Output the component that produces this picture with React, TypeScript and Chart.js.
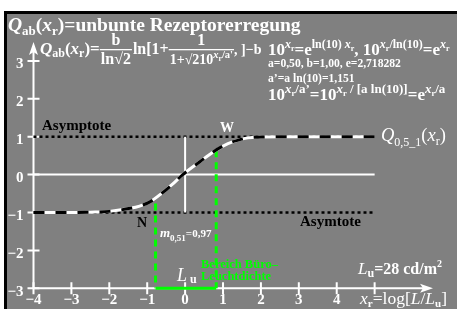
import { useEffect, useRef } from "react";
import { Chart, registerables } from "chart.js";
Chart.register(...registerables);

const W = 457;
const H = 309;

// curve
const curveX = [-4, -3, -2.5, -2, -1.45, -1.2, -0.93, -0.6, -0.34, -0.06, 0.39, 0.74, 1.13, 1.4, 1.66, 2, 2.5, 3, 4, 5];
const curveY = [-1, -1, -0.99, -0.97, -0.89, -0.83, -0.72, -0.48, -0.26, 0, 0.34, 0.6, 0.82, 0.91, 0.97, 0.99, 1, 1, 1, 1];

const asymX = [-4, 5];
const asymTop = [1, 1];
const asymBottom = [-1, -1];
const zeroLineX = [-4, 5];
const zeroLineY = [0, 0];
const vertX = [0, 0];
const vertY = [-1, 1];
const greenLeftX = [-0.78, -0.78];
const greenLeftY = [-0.76, -3];
const greenRightX = [0.82, 0.82];
const greenRightY = [0.64, -3];
const greenBaseX = [-0.78, 0.82];
const greenBaseY = [-3, -3];

const xTickValues = [-4, -3, -2, -1, 0, 1, 2, 3, 4, 5];
const xTickLabels = ["−4", "−3", "−2", "−1", "0", "1", "2", "3", "4", ""];
const yTickValues = [-3, -2, -1, 0, 1, 2, 3];
const yTickLabels = ["−3", "−2", "−1", "0", "1", "2", "3"];

const X_MIN = -4;
const X_MAX = 6.54;
const Y_MIN = -3;
const Y_MAX = 3.5;

const FONT = '"Liberation Serif", "DejaVu Serif", serif';
const GREEN = "#00ff00";

const pts = (xs: number[], ys: number[]) => xs.map((x, i) => ({ x, y: ys[i] }));

type Run = { t: string; s: number; i?: boolean; n?: boolean; dy?: number; c?: string };

function font(r: Run) {
  return `${r.i ? "italic " : ""}${r.n ? "" : "bold "}${r.s}px ${FONT}`;
}

function drawRuns(ctx: CanvasRenderingContext2D, x: number, y: number, list: Run[], color: string) {
  ctx.textAlign = "left";
  ctx.textBaseline = "alphabetic";
  for (const r of list) {
    ctx.font = font(r);
    ctx.fillStyle = r.c ?? color;
    ctx.fillText(r.t, x, y + (r.dy ?? 0));
    x += ctx.measureText(r.t).width;
  }
  return x;
}

function runsWidth(ctx: CanvasRenderingContext2D, list: Run[]) {
  let w = 0;
  for (const r of list) {
    ctx.font = font(r);
    w += ctx.measureText(r.t).width;
  }
  return w;
}

const bgPlugin = {
  id: "bg",
  beforeDraw(chart: any) {
    const ctx = chart.ctx as CanvasRenderingContext2D;
    ctx.save();
    ctx.fillStyle = "#ffffff";
    ctx.fillRect(0, 0, W, H);
    ctx.fillStyle = "#000000";
    ctx.fillRect(4, 11, W - 4, H - 11);
    ctx.fillStyle = "#808080";
    ctx.fillRect(7, 14, W - 7, H - 14);
    ctx.restore();
  },
};

const axesPlugin = {
  id: "axes",
  beforeDatasetsDraw(chart: any) {
    const ctx = chart.ctx as CanvasRenderingContext2D;
    const xs = chart.scales.x;
    const ys = chart.scales.y;
    const ax = xs.getPixelForValue(X_MIN);
    const ay = ys.getPixelForValue(Y_MIN);
    const ex = xs.getPixelForValue(X_MAX);
    const ey = ys.getPixelForValue(Y_MAX);
    ctx.save();
    ctx.strokeStyle = "#ffffff";
    ctx.fillStyle = "#ffffff";
    ctx.lineWidth = 2;
    ctx.beginPath();
    ctx.moveTo(ax, ay);
    ctx.lineTo(ex - 8, ay);
    ctx.moveTo(ax, ay);
    ctx.lineTo(ax, ey + 8);
    ctx.stroke();
    // arrow heads
    ctx.beginPath();
    ctx.moveTo(ex, ay);
    ctx.lineTo(ex - 13, ay - 4.5);
    ctx.lineTo(ex - 10, ay);
    ctx.lineTo(ex - 13, ay + 4.5);
    ctx.closePath();
    ctx.fill();
    ctx.beginPath();
    ctx.moveTo(ax, ey);
    ctx.lineTo(ax - 4.5, ey + 13);
    ctx.lineTo(ax, ey + 10);
    ctx.lineTo(ax + 4.5, ey + 13);
    ctx.closePath();
    ctx.fill();
    // ticks
    ctx.lineWidth = 2;
    ctx.beginPath();
    xTickValues.forEach((v) => {
      const px = xs.getPixelForValue(v);
      ctx.moveTo(px, ay - 6);
      ctx.lineTo(px, ay + 6);
    });
    yTickValues.forEach((v) => {
      const py = ys.getPixelForValue(v);
      ctx.moveTo(ax - 6, py);
      ctx.lineTo(ax + 6, py);
    });
    ctx.stroke();
    // tick labels
    ctx.font = `bold 15px ${FONT}`;
    ctx.textBaseline = "alphabetic";
    ctx.textAlign = "center";
    xTickValues.forEach((v, i) => {
      ctx.fillText(xTickLabels[i], xs.getPixelForValue(v), ay + 16);
    });
    ctx.textAlign = "right";
    yTickValues.forEach((v, i) => {
      ctx.fillText(yTickLabels[i], ax - 10, ys.getPixelForValue(v) + 7.5);
    });
    ctx.restore();
  },
};

const textPlugin = {
  id: "texts",
  afterDraw(chart: any) {
    const ctx = chart.ctx as CanvasRenderingContext2D;
    ctx.save();
    const WH = "#ffffff";
    // title
    drawRuns(ctx, 8, 31, [
      { t: "Q", s: 19.5, i: true },
      { t: "ab", s: 13, dy: 4 },
      { t: "(", s: 19.5 },
      { t: "x", s: 19.5, i: true },
      { t: "r", s: 13, dy: 4 },
      { t: ")=unbunte Rezeptorerregung", s: 19.5 },
    ], WH);

    // formula line
    let x = drawRuns(ctx, 40, 54, [
      { t: "Q", s: 17, i: true },
      { t: "ab", s: 12, dy: 3 },
      { t: "(", s: 17 },
      { t: "x", s: 17, i: true },
      { t: "r", s: 12, dy: 3 },
      { t: ")=", s: 17 },
    ], WH);
    const frac = (x0: number, num: Run[], den: Run[]) => {
      const wn = runsWidth(ctx, num);
      const wd = runsWidth(ctx, den);
      const w = Math.max(wn, wd) + 2;
      ctx.fillStyle = WH;
      ctx.fillRect(x0, 49, w, 1.3);
      drawRuns(ctx, x0 + (w - wn) / 2, 45, num, WH);
      drawRuns(ctx, x0 + (w - wd) / 2, 64, den, WH);
      return x0 + w;
    };
    x = frac(x, [{ t: "b", s: 16 }], [{ t: "ln√2", s: 16 }]);
    x = drawRuns(ctx, x + 1, 54, [{ t: "ln[1+", s: 16 }], WH);
    x = frac(x, [{ t: "1", s: 16 }], [
      { t: "1+√210", s: 14 },
      { t: "x", s: 10.5, i: true, dy: -6 },
      { t: "r", s: 7.5, dy: -3 },
      { t: "/a'", s: 10.5, dy: -6 },
    ]);
    x = drawRuns(ctx, x, 54, [{ t: ", ]−b", s: 14 }], WH);
    drawRuns(ctx, 268, 55, [
      { t: "10", s: 17 },
      { t: "x", s: 12, i: true, dy: -7 },
      { t: "r", s: 8, dy: -4 },
      { t: "=e", s: 17 },
      { t: "ln(10) ", s: 12, dy: -7 },
      { t: "x", s: 12, i: true, dy: -7 },
      { t: "r", s: 8, dy: -4 },
      { t: ", 10", s: 17 },
      { t: "x", s: 12, i: true, dy: -7 },
      { t: "r", s: 8, dy: -4 },
      { t: "/ln(10)", s: 12, dy: -7 },
      { t: "=e", s: 17 },
      { t: "x", s: 12, i: true, dy: -7 },
      { t: "r", s: 8, dy: -4 },
    ], WH);
    drawRuns(ctx, 268, 67, [{ t: "a=0,50, b=1,00, e=2,718282", s: 11.6 }], WH);
    drawRuns(ctx, 268, 82, [{ t: "a’=a ln(10)=1,151", s: 11.6 }], WH);
    drawRuns(ctx, 268, 100, [
      { t: "10", s: 17 },
      { t: "x", s: 13, i: true, dy: -7 },
      { t: "r", s: 8.5, dy: -4 },
      { t: "/a’", s: 13, dy: -7 },
      { t: "=10", s: 17 },
      { t: "x", s: 13, i: true, dy: -7 },
      { t: "r", s: 8.5, dy: -4 },
      { t: " / [a ln(10)]", s: 13, dy: -7 },
      { t: "=e", s: 17 },
      { t: "x", s: 13, i: true, dy: -7 },
      { t: "r", s: 8.5, dy: -4 },
      { t: "/a", s: 13, dy: -7 },
    ], WH);

    drawRuns(ctx, 42, 130, [{ t: "Asymptote", s: 15 }], "#000");
    drawRuns(ctx, 220, 132, [{ t: "W", s: 14 }], WH);
    drawRuns(ctx, 381, 141, [
      { t: "Q", s: 18.5, i: true, n: true },
      { t: "0,5_1", s: 12, dy: 5, n: true },
      { t: "(", s: 18.5, n: true },
      { t: "x", s: 18.5, i: true, n: true },
      { t: "r", s: 12, dy: 4, n: true },
      { t: ")", s: 18.5, n: true },
    ], WH);
    drawRuns(ctx, 137, 227, [{ t: "N", s: 14 }], "#000");
    drawRuns(ctx, 300, 226, [{ t: "Asymtote", s: 15 }], "#000");
    drawRuns(ctx, 160, 237, [
      { t: "m", s: 13, i: true },
      { t: "0,51", s: 9, dy: 4 },
      { t: "=0,97", s: 11 },
    ], WH);
    drawRuns(ctx, 177, 281, [
      { t: "L", s: 18, i: true, n: true },
      { t: " u", s: 12, dy: 2 },
    ], WH);
    drawRuns(ctx, 201, 268, [{ t: "Bereich Büro–", s: 12.5 }], GREEN);
    drawRuns(ctx, 201, 280, [{ t: "Leuchtdichte", s: 12.5 }], GREEN);
    drawRuns(ctx, 358, 274, [
      { t: "L", s: 17, i: true, n: true },
      { t: "u", s: 12, dy: 3 },
      { t: "=28 cd/m", s: 16 },
      { t: "2", s: 10, dy: -7 },
    ], WH);
    drawRuns(ctx, 360, 304, [
      { t: "x", s: 17.5, i: true, n: true },
      { t: "r", s: 11, dy: 3 },
      { t: "=log[", s: 17.5, n: true },
      { t: "L", s: 17.5, i: true, n: true },
      { t: "/", s: 17.5, n: true },
      { t: "L", s: 17.5, i: true, n: true },
      { t: "u", s: 11, dy: 3 },
      { t: "]", s: 17.5, n: true },
    ], WH);
    ctx.restore();
  },
};

export default function App() {
  const ref = useRef<HTMLCanvasElement | null>(null);
  useEffect(() => {
    if (!ref.current) return;
    const base = { pointRadius: 0, fill: false, clip: false as any, tension: 0 };
    const chart = new Chart(ref.current, {
      type: "line",
      data: {
        datasets: [
          { ...base, data: pts(curveX, curveY), borderColor: "#000000", borderWidth: 3, borderDash: [11, 11], cubicInterpolationMode: "monotone", order: 0 },
          { ...base, data: pts(curveX, curveY), borderColor: "#ffffff", borderWidth: 3, cubicInterpolationMode: "monotone", order: 1 },
          { ...base, data: pts(greenLeftX, greenLeftY), borderColor: GREEN, borderWidth: 3, borderDash: [7, 5], order: 2 },
          { ...base, data: pts(greenRightX, greenRightY), borderColor: GREEN, borderWidth: 3, borderDash: [7, 5], order: 2 },
          { ...base, data: pts(greenBaseX, greenBaseY), borderColor: GREEN, borderWidth: 3, order: 2 },
          { ...base, data: pts(zeroLineX, zeroLineY), borderColor: "#ffffff", borderWidth: 2, order: 3 },
          { ...base, data: pts(vertX, vertY), borderColor: "#ffffff", borderWidth: 2, order: 3 },
          { ...base, data: pts(asymX, asymTop), borderColor: "#000000", borderWidth: 2.5, borderDash: [3, 3], order: 4 },
          { ...base, data: pts(asymX, asymBottom), borderColor: "#000000", borderWidth: 2.5, borderDash: [3, 3], order: 4 },
        ] as any,
      },
      options: {
        animation: false,
        responsive: false,
        devicePixelRatio: 1,
        layout: { padding: { left: 33.5, right: W - 433, top: 42, bottom: H - 288.3 } },
        plugins: { legend: { display: false }, tooltip: { enabled: false } },
        events: [],
        scales: {
          x: { type: "linear", min: X_MIN, max: X_MAX, display: false },
          y: { type: "linear", min: Y_MIN, max: Y_MAX, display: false },
        },
      },
      plugins: [bgPlugin, axesPlugin, textPlugin],
    });
    return () => chart.destroy();
  }, []);
  return (
    <canvas
      ref={ref}
      width={W}
      height={H}
      style={{ position: "fixed", left: 0, top: 0, width: W, height: H }}
    />
  );
}
